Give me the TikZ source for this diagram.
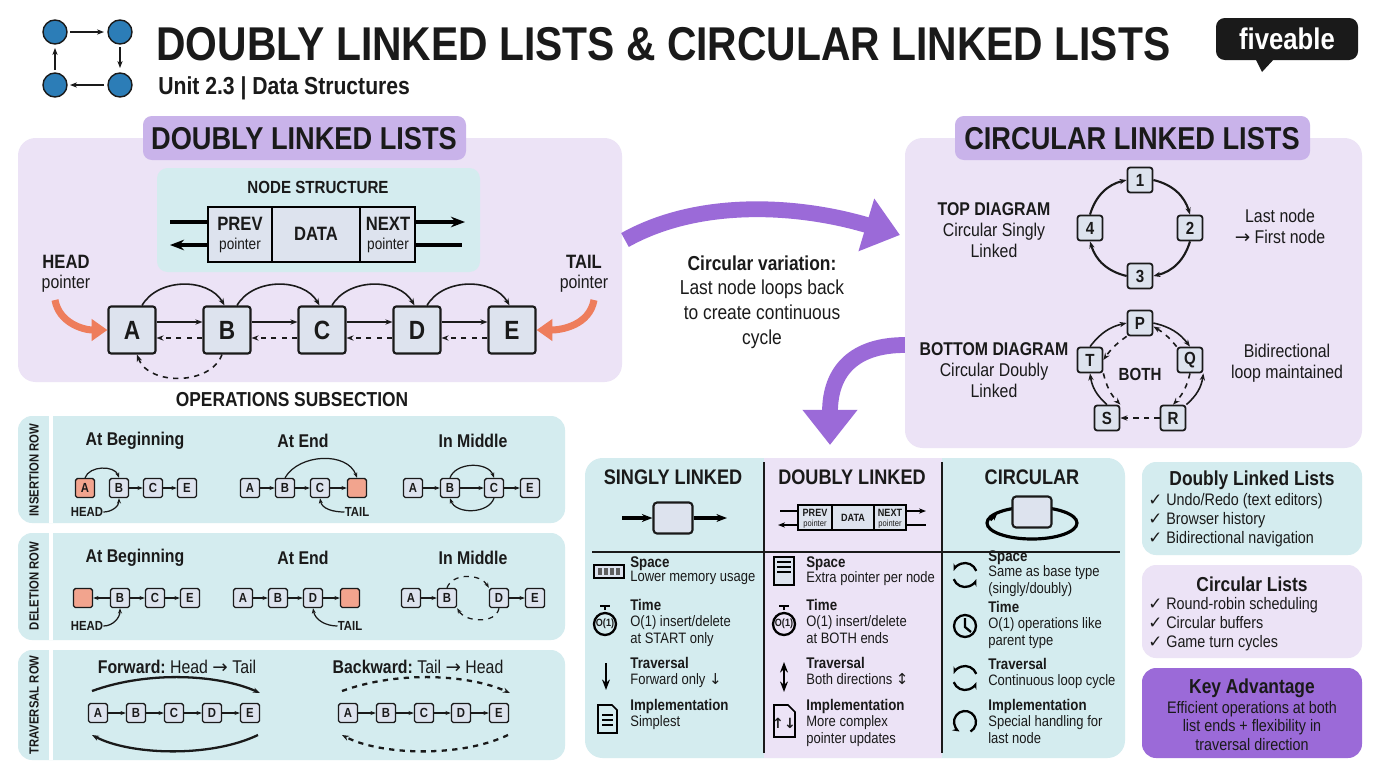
\documentclass[tikz,border=0pt]{standalone}
\usepackage{fontspec}
\setmainfont{Liberation Sans}[FakeStretch=0.86]
\newfontfamily\sym{DejaVu Sans}
\usetikzlibrary{arrows.meta,positioning,calc}
\definecolor{lav}{HTML}{ECE3F6}
\definecolor{hdr}{HTML}{C9B3EA}
\definecolor{dpurp}{HTML}{9B6AD8}
\definecolor{teal}{HTML}{D4ECEF}
\definecolor{nfill}{HTML}{DDE3EE}
\definecolor{ofill}{HTML}{F2A48E}
\definecolor{salmon}{HTML}{EE7D5C}
\definecolor{blu}{HTML}{2C7DB7}
\definecolor{ink}{HTML}{1A1A1A}
\begin{document}
\begin{tikzpicture}[x=0.02cm,y=-0.02cm,
  every node/.style={text=ink,inner sep=0pt},
  panel/.style={rounded corners=10pt,draw=none},
  big/.style={draw=ink,line width=1.2pt,fill=nfill,minimum size=0.94cm,rounded corners=1.5pt,font=\fontsize{15}{15}\selectfont\bfseries},
  sn/.style={draw=ink,line width=0.8pt,fill=nfill,minimum size=0.38cm,rounded corners=1pt,font=\fontsize{7.5}{7.5}\selectfont\bfseries},
  on/.style={sn,fill=ofill},
  cn/.style={draw=ink,line width=1pt,fill=nfill,minimum size=0.5cm,rounded corners=1.5pt,font=\fontsize{10}{10}\selectfont\bfseries},
  ar/.style={-{Stealth[length=4pt]},line width=0.9pt,draw=ink},
  sar/.style={-{Stealth[length=3pt]},line width=0.7pt,draw=ink},
  da/.style={ar,dashed},
  sec/.style={font=\fontsize{18}{18}\selectfont\bfseries},
  ttl/.style={font=\fontsize{10.5}{12}\selectfont\bfseries},
  body/.style={font=\fontsize{10.5}{12}\selectfont},
  sm/.style={font=\fontsize{8.6}{10}\selectfont,align=left,anchor=north west},
  smb/.style={font=\fontsize{8.8}{10}\selectfont\bfseries,anchor=north west},
  lbl/.style={font=\fontsize{10}{12}\selectfont\bfseries},
  tiny/.style={font=\fontsize{7.5}{8}\selectfont\bfseries},
  bigarrow/.style={line width=9pt,dpurp,-{Triangle[length=20pt,width=30pt,fill=dpurp]}},
]
\useasboundingbox (0,0) rectangle (1376,768);
\fill[white] (0,0) rectangle (1376,768);
% ---------- header ----------
\foreach \p/\q in {55/32,120/32,55/85,120/85} \fill[blu,draw=ink,line width=0.8pt] (\p,\q) circle (12);
\draw[ar,line width=1.4pt] (70,32) -- (104,32);
\draw[ar,line width=1.4pt] (120,47) -- (120,68);
\draw[ar,line width=1.4pt] (104,85) -- (70,85);
\draw[ar,line width=1.4pt] (55,70) -- (55,48);
\node[anchor=west,font=\fontsize{27}{27}\selectfont\bfseries] (title) at (156,44) {DOUBLY LINKED LISTS \& CIRCULAR LINKED LISTS};
\node[anchor=west,font=\fontsize{14}{14}\selectfont\bfseries] (sub) at (158,88) {Unit 2.3 | Data Structures};
\fill[ink,rounded corners=5pt] (1216,18) rectangle (1358,60);
\fill[ink] (1255,58) -- (1262,72) -- (1275,58) -- cycle;
\node[text=white,font=\fontsize{17}{17}\selectfont\bfseries] (logo) at (1287,39) {fiveable};
% ---------- left panel ----------
\fill[lav,panel] (18,138) rectangle (622,382);
\fill[hdr,rounded corners=5pt] (143,116) rectangle (466,160);
\node[sec] (dlh) at (304,139) {DOUBLY LINKED LISTS};
\fill[teal,rounded corners=6pt] (157,168) rectangle (480,272);
\node[lbl] (ns) at (318,187) {NODE STRUCTURE};
\draw[line width=1.2pt,fill=nfill] (208,207) rectangle (415,262);
\draw[line width=1.2pt] (272,207) -- (272,262) (360,207) -- (360,262);
\node[font=\fontsize{11}{11}\selectfont\bfseries] (prev) at (240,224) {PREV};
\node[font=\fontsize{9}{9}\selectfont] at (240,245) {pointer};
\node[font=\fontsize{11}{11}\selectfont\bfseries] (data) at (316,234) {DATA};
\node[font=\fontsize{11}{11}\selectfont\bfseries] (next) at (388,224) {NEXT};
\node[font=\fontsize{9}{9}\selectfont] at (388,245) {pointer};
\draw[line width=2pt] (170,222) -- (208,222);
\draw[line width=2pt,-{Stealth[length=8pt]}] (415,222) -- (465,222);
\draw[line width=2pt,-{Stealth[length=8pt]}] (208,245) -- (170,245);
\draw[line width=2pt] (415,245) -- (462,245);
\foreach \n/\x in {A/132,B/227,C/322,D/417,E/512} \node[big] (\n) at (\x,330) {\n};
\foreach \a/\b in {A/B,B/C,C/D,D/E}{
  \draw[ar] ([yshift=0.16cm]\a.east) -- ([yshift=0.16cm]\b.west);
  \draw[da] ([yshift=-0.16cm]\b.west) -- ([yshift=-0.16cm]\a.east);
  \draw[ar] ([xshift=0.2cm]\a.north) to[out=60,in=120] ([xshift=-0.05cm]\b.north);
}
\draw[da] ([xshift=-0.1cm]B.south) to[out=-110,in=-70] ([xshift=0.1cm]A.south);
\node[font=\fontsize{11}{11}\selectfont\bfseries] (hd) at (66,262) {HEAD};
\node[body] at (66,284) {pointer};
\node[font=\fontsize{11}{11}\selectfont\bfseries] (tl) at (584,262) {TAIL};
\node[body] at (584,284) {pointer};
\draw[salmon,line width=4pt,-{Triangle[length=9pt,width=12pt]}] (55,300) to[out=-80,in=180] (A.west);
\draw[salmon,line width=4pt,-{Triangle[length=9pt,width=12pt]}] (594,300) to[out=-100,in=0] (E.east);
% ---------- middle ----------
\draw[bigarrow] (625,240) .. controls (700,198) and (800,205) .. (900,235);
\node[body,align=center,font=\fontsize{11.5}{14}\selectfont] (cv) at (762,302) {\textbf{Circular variation:}\\Last node loops back\\to create continuous\\cycle};
\draw[bigarrow] (905,345) .. controls (855,345) and (830,370) .. (830,445);
% ---------- right panel ----------
\fill[lav,panel] (905,138) rectangle (1362,448);
\fill[hdr,rounded corners=5pt] (955,116) rectangle (1310,160);
\node[sec] (clh) at (1132,139) {CIRCULAR LINKED LISTS};
\node[body,align=center] (td) at (994,230) {\textbf{TOP DIAGRAM}\\Circular Singly\\Linked};
\node[cn] (n1) at (1140,180) {1};
\node[cn] (n2) at (1190,228) {2};
\node[cn] (n3) at (1140,276) {3};
\node[cn] (n4) at (1090,228) {4};
\draw[ar,line width=1.2pt] (n1.east) to[bend left=30] (n2.north);
\draw[ar,line width=1.2pt] (n2.south) to[bend left=30] (n3.east);
\draw[ar,line width=1.2pt] (n3.west) to[bend left=30] (n4.south);
\draw[ar,line width=1.2pt] (n4.north) to[bend left=30] (n1.west);
\node[body,align=center] (ln) at (1280,226) {Last node\\{\sym→} First node};
\node[body,align=center] (bd) at (994,370) {\textbf{BOTTOM DIAGRAM}\\Circular Doubly\\Linked};
\node[cn] (P) at (1140,323) {P};
\node[cn] (Q) at (1190,360) {Q};
\node[cn] (R) at (1173,418) {R};
\node[cn] (S) at (1107,418) {S};
\node[cn] (T) at (1090,360) {T};
\node[lbl] (both) at (1140,374) {BOTH};
\draw[ar] (P.east) to[bend left=20] (Q.north);
\draw[da] (Q.north west) to[bend right=10] ([yshift=-2pt]P.east);
\draw[da] (Q.south) to[bend left=15] (R.north);
\draw[ar] (R.north east) to[bend right=20] (Q.south east);
\draw[da] (R.west) -- (S.east);
\draw[ar] (S.north) to[bend left=20] (T.south);
\draw[da] (T.south east) to[bend right=15] (S.north east);
\draw[ar] (T.north) to[bend left=20] (P.west);
\draw[da] (P.south west) to[bend right=10] (T.east);
\node[body,align=center] (bl) at (1287,363) {Bidirectional\\loop maintained};
% ---------- operations ----------
\node[font=\fontsize{11.5}{12}\selectfont\bfseries] (ops) at (292,400) {OPERATIONS SUBSECTION};
\foreach \a/\b/\t/\c in {416/523/INSERTION ROW/470,533/640/DELETION ROW/586,650/760/TRAVERSAL ROW/705}{
  \fill[teal,rounded corners=8pt] (18,\a) rectangle (565,\b);
  \draw[white,line width=2pt] (51,\a) -- (51,\b);
  \node[rotate=90,font=\fontsize{7.5}{8}\selectfont\bfseries] at (34,\c) {\t};
}
% insertion
\node[ttl] at (135,441) {At Beginning};
\node[ttl] at (303,441) {At End};
\node[ttl] at (473,441) {In Middle};
\node[on] (iA) at (85,488) {A};
\node[sn] (iB) at (119,488) {B};
\node[sn] (iC) at (153,488) {C};
\node[sn] (iE) at (187,488) {E};
\draw[sar] (iB) -- (iC); \draw[sar] (iC) -- (iE);
\draw[sar] (iA.north) to[out=70,in=110] (iB.north);
\node[tiny] (ihd) at (87,512) {HEAD};
\draw[sar] (ihd.east) to[out=0,in=-90] (iB.south);
\node[sn] (jA) at (250,488) {A};
\node[sn] (jB) at (285,488) {B};
\node[sn] (jC) at (320,488) {C};
\node[on] (jN) at (357,488) {};
\draw[sar] (jA) -- (jB); \draw[sar] (jB) -- (jC); \draw[sar] (jC) -- (jN);
\draw[sar] (jB.north) to[out=60,in=110] (jN.north);
\node[tiny] (jtl) at (357,512) {TAIL};
\draw[sar] (jtl.west) to[out=180,in=-80] (jC.south);
\node[sn] (kA) at (413,488) {A};
\node[sn] (kB) at (450,488) {B};
\node[sn] (kC) at (494,488) {C};
\node[sn] (kE) at (530,488) {E};
\draw[sar] (kA) -- (kB); \draw[sar] (kB) -- (kC); \draw[sar] (kC) -- (kE);
\draw[sar] (kB.north) to[out=70,in=110] (kC.north);
\draw[sar] (kC.south) to[out=-110,in=-70] (kB.south);
% deletion
\node[ttl] at (135,558) {At Beginning};
\node[ttl] at (303,558) {At End};
\node[ttl] at (473,558) {In Middle};
\node[on] (dN) at (83,598) {};
\node[sn] (dB) at (120,598) {B};
\node[sn] (dC) at (155,598) {C};
\node[sn] (dE) at (190,598) {E};
\draw[sar] (dB) -- (dN); \draw[sar] (dB) -- (dC); \draw[sar] (dC) -- (dE);
\node[tiny] (dhd) at (87,626) {HEAD};
\draw[sar] (dhd.east) to[out=0,in=-90] (dB.south);
\node[sn] (eA) at (243,598) {A};
\node[sn] (eB) at (278,598) {B};
\node[sn] (eD) at (313,598) {D};
\node[on] (eN) at (350,598) {};
\draw[sar] (eA) -- (eB); \draw[sar] (eB) -- (eD); \draw[sar] (eD) -- (eN);
\node[tiny] (etl) at (350,626) {TAIL};
\draw[sar] (etl.west) to[out=180,in=-80] (eD.south);
\node[sn] (fA) at (411,598) {A};
\node[sn] (fB) at (447,598) {B};
\node[sn] (fD) at (499,598) {D};
\node[sn] (fE) at (535,598) {E};
\draw[sar] (fA) -- (fB); \draw[sar] (fD) -- (fE);
\draw[sar,dashed] (fB.north) to[out=70,in=120] (fD.north west);
\draw[sar,dashed] (fD.south) to[out=-100,in=-60] (fB.south east);
% traversal
\node[ttl] at (177,667) {Forward:\ \mdseries Head {\sym→} Tail};
\node[ttl] at (418,667) {Backward:\ \mdseries Tail {\sym→} Head};
\foreach \n/\x in {A/98,B/136,C/174,D/212,E/250} \node[sn] (g\n) at (\x,713) {\n};
\foreach \n/\x in {A/348,B/386,C/424,D/461,E/499} \node[sn] (h\n) at (\x,713) {\n};
\foreach \a/\b in {A/B,B/C,C/D,D/E}{\draw[sar] (g\a) -- (g\b); \draw[sar] (h\a) -- (h\b);}
\draw[ar,line width=1.3pt] (92,691) .. controls (150,670) and (220,675) .. (260,693);
\draw[ar,line width=1.3pt] (258,735) .. controls (210,758) and (130,755) .. (92,735);
\draw[ar,line width=1.3pt,dashed] (342,691) .. controls (400,670) and (470,675) .. (510,693);
\draw[ar,line width=1.3pt,dashed] (508,735) .. controls (460,758) and (380,755) .. (342,735);
% ---------- comparison table ----------
\fill[teal,rounded corners=10pt] (585,458) rectangle (1125,758);
\fill[lav] (764,458) rectangle (942,758);
\draw[ink,line width=1.3pt] (764,462) -- (764,753) (942,462) -- (942,753) (592,552) -- (1120,552);
\node[font=\fontsize{12}{12}\selectfont\bfseries] at (673,477) {SINGLY LINKED};
\node[font=\fontsize{12}{12}\selectfont\bfseries] at (852,477) {DOUBLY LINKED};
\node[font=\fontsize{12}{12}\selectfont\bfseries] at (1032,477) {CIRCULAR};
% singly icon
\node[draw=ink,line width=1.2pt,fill=nfill,minimum width=0.78cm,minimum height=0.62cm,rounded corners=2pt] (sI) at (673,518) {};
\draw[line width=1.8pt,-{Stealth[length=6pt]}] (622,518) -- (sI.west);
\draw[line width=1.8pt,-{Stealth[length=6pt]}] (sI.east) -- (727,518);
% doubly icon
\draw[line width=1pt,fill=nfill] (798,505) rectangle (906,530);
\draw[line width=1pt] (832,505) -- (832,530) (874,505) -- (874,530);
\node[font=\fontsize{6}{6}\selectfont\bfseries] at (815,513) {PREV};
\node[font=\fontsize{5}{5}\selectfont] at (815,524) {pointer};
\node[font=\fontsize{6}{6}\selectfont\bfseries] at (853,518) {DATA};
\node[font=\fontsize{6}{6}\selectfont\bfseries] at (890,513) {NEXT};
\node[font=\fontsize{5}{5}\selectfont] at (890,524) {pointer};
\draw[line width=1pt] (780,511) -- (798,511);
\draw[line width=1pt,-{Stealth[length=4pt]}] (906,511) -- (926,511);
\draw[line width=1pt,-{Stealth[length=4pt]}] (798,525) -- (778,525);
\draw[line width=1pt] (906,525) -- (926,525);
% circular icon
\draw[line width=1.8pt] (1032,523) ellipse (45 and 16);
\node[draw=ink,line width=1.2pt,fill=nfill,minimum width=0.78cm,minimum height=0.62cm,rounded corners=2pt] (cI) at (1032,512) {};
\draw[line width=1.8pt,-{Stealth[length=5pt]}] (990,520) -- (998,512);
% column texts
\node[smb] at (630,556) {Space};
\node[sm] at (630,571) {Lower memory usage};
\node[smb] at (630,599) {Time};
\node[sm] at (630,615) {O(1) insert/delete\\at START only};
\node[smb] at (630,657) {Traversal};
\node[sm] at (630,673) {Forward only {\sym↓}};
\node[smb] at (630,699) {Implementation};
\node[sm] at (630,715) {Simplest};
\node[smb] at (806,556) {Space};
\node[sm] at (806,571) {Extra pointer per node};
\node[smb] at (806,599) {Time};
\node[sm] at (806,615) {O(1) insert/delete\\at BOTH ends};
\node[smb] at (806,657) {Traversal};
\node[sm] at (806,673) {Both directions {\sym↕}};
\node[smb] at (806,699) {Implementation};
\node[sm] at (806,715) {More complex\\pointer updates};
\node[smb] at (988,550) {Space};
\node[sm] at (988,565) {Same as base type\\(singly/doubly)};
\node[smb] at (988,601) {Time};
\node[sm] at (988,617) {O(1) operations like\\parent type};
\node[smb] at (988,658) {Traversal};
\node[sm] at (988,674) {Continuous loop cycle};
\node[smb] at (988,699) {Implementation};
\node[sm] at (988,715) {Special handling for\\last node};
% column icons
\draw[line width=1pt,fill=nfill] (594,565) rectangle (624,578);
\foreach \i in {598,604,610,616} \fill[ink!70] (\i,568) rectangle (\i+4,575);
\draw[line width=1.3pt] (605,624) circle (11);
\draw[line width=1.3pt] (605,610) -- (605,606) (600,606) -- (610,606);
\node[font=\fontsize{6}{6}\selectfont\bfseries] at (605,624) {O(1)};
\draw[line width=1.5pt,-{Stealth[length=6pt]}] (606,663) -- (606,690);
\draw[line width=1pt] (598,705) -- (612,705) -- (617,710) -- (617,733) -- (598,733) -- cycle;
\foreach \yy in {715,720,725} \draw[line width=0.8pt] (602,\yy) -- (613,\yy);
\draw[line width=1pt,fill=nfill] (774,557) rectangle (794,585);
\foreach \yy in {562,567,572} \draw[line width=0.8pt] (777,\yy) -- (791,\yy);
\draw[line width=1.3pt] (784,624) circle (11);
\draw[line width=1.3pt] (784,610) -- (784,606) (779,606) -- (789,606);
\node[font=\fontsize{6}{6}\selectfont\bfseries] at (784,624) {O(1)};
\draw[line width=1.5pt,{Stealth[length=6pt]}-{Stealth[length=6pt]}] (784,662) -- (784,692);
\draw[line width=1pt] (774,705) -- (788,705) -- (795,712) -- (795,737) -- (774,737) -- cycle;
\node[font=\fontsize{8}{8}\selectfont\bfseries] at (784,723) {\sym↑↓};
\foreach \yy in {575,678} {
  \draw[line width=1.3pt,-{Stealth[length=4pt]}] ($(965,\yy)+(160:12)$) arc (160:20:12);
  \draw[line width=1.3pt,-{Stealth[length=4pt]}] ($(965,\yy)+(-20:12)$) arc (-20:-160:12);
}
\draw[line width=1.3pt] (965,626) circle (11);
\draw[line width=1.3pt] (965,618) -- (965,627) -- (971,632);
\draw[line width=1.3pt,-{Stealth[length=4pt]}] ($(965,722)+(60:11)$) arc (60:-240:11);
% ---------- right boxes ----------
\fill[teal,rounded corners=8pt] (1142,462) rectangle (1362,555);
\node[font=\fontsize{11.5}{12}\selectfont\bfseries] at (1252,480) {Doubly Linked Lists};
\node[sm,font=\fontsize{9.5}{10.8}\selectfont] at (1148,493) {{\sym✓} Undo/Redo (text editors)\\{\sym✓} Browser history\\{\sym✓} Bidirectional navigation};
\fill[lav,rounded corners=8pt] (1142,565) rectangle (1362,658);
\node[font=\fontsize{11.5}{12}\selectfont\bfseries] at (1252,584) {Circular Lists};
\node[sm,font=\fontsize{9.5}{10.8}\selectfont] at (1148,597) {{\sym✓} Round-robin scheduling\\{\sym✓} Circular buffers\\{\sym✓} Game turn cycles};
\fill[dpurp,rounded corners=8pt] (1142,668) rectangle (1362,758);
\node[font=\fontsize{11.5}{12}\selectfont\bfseries] at (1252,688) {Key Advantage};
\node[align=center,font=\fontsize{9.5}{10.5}\selectfont] at (1252,726) {Efficient operations at both\\list ends + flexibility in\\traversal direction};
\end{tikzpicture}
\end{document}
